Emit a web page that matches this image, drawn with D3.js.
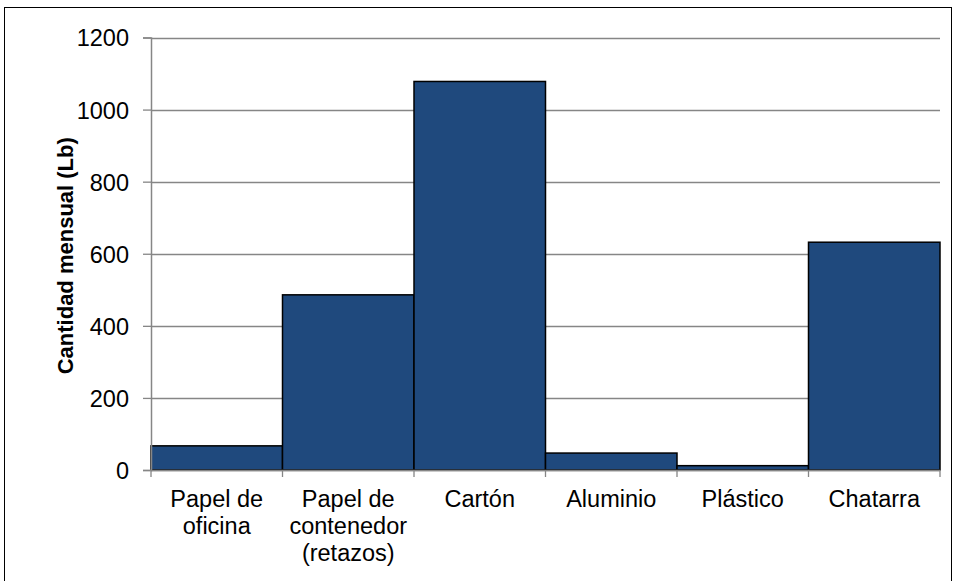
<!DOCTYPE html>
<html>
<head>
<meta charset="utf-8">
<script src="https://cdn.jsdelivr.net/npm/d3@7"></script>
<style>
  html, body { margin: 0; padding: 0; background: #fff; }
  svg text { font-family: "Liberation Sans", Arial, sans-serif; fill: #000; }
</style>
</head>
<body>
<svg id="chart" width="956" height="581"></svg>
<script>
// Monthly recyclable material quantities (Lb)
const categories = [
  ["Papel de", "oficina"],
  ["Papel de", "contenedor", "(retazos)"],
  ["Cartón"],
  ["Aluminio"],
  ["Plástico"],
  ["Chatarra"]
];
const values = [67, 486, 1078, 47, 12, 632];
const yTicks = [0, 200, 400, 600, 800, 1000, 1200];
const yTitle = "Cantidad mensual (Lb)";

const svg = d3.select("#chart");
const plot = { left: 151, right: 940, top: 37.5, bottom: 470 };

// outer chart frame
svg.append("rect")
  .attr("x", 4.5).attr("y", 7.5)
  .attr("width", 947).attr("height", 600)
  .attr("fill", "none").attr("stroke", "#000").attr("stroke-width", 1);

const keys = categories.map((c, i) => i);
const x = d3.scaleBand().domain(keys).range([plot.left, plot.right]).padding(0);
const y = d3.scaleLinear().domain([0, 1200]).range([plot.bottom, plot.top]);

// horizontal gridlines
svg.append("g")
  .selectAll("line")
  .data(yTicks)
  .join("line")
  .attr("x1", plot.left).attr("x2", plot.right)
  .attr("y1", d => Math.round(y(d)) + 0.5).attr("y2", d => Math.round(y(d)) + 0.5)
  .attr("stroke", "#868686").attr("stroke-width", 1.3);

// bars
svg.append("g")
  .selectAll("rect")
  .data(values)
  .join("rect")
  .attr("x", (d, i) => x(i))
  .attr("y", d => y(d))
  .attr("width", x.bandwidth())
  .attr("height", d => y(0) - y(d))
  .attr("fill", "#1F497D")
  .attr("stroke", "#000")
  .attr("stroke-width", 1.5);

// y axis
const yAxis = svg.append("g")
  .attr("transform", `translate(${plot.left},0)`)
  .call(d3.axisLeft(y).tickValues(yTicks).tickSize(8).tickPadding(14).tickFormat(d3.format("d")));
yAxis.select(".domain").attr("stroke", "#868686").attr("stroke-width", 1.5);
yAxis.selectAll(".tick line").attr("stroke", "#868686").attr("stroke-width", 1.3);
yAxis.selectAll(".tick text")
  .attr("font-size", 23.5)
  .attr("dy", "0.36em")
  .style("font-family", "'Liberation Sans', Arial, sans-serif")
  .attr("fill", "#000");

// x axis baseline and category boundary ticks
const boundaries = keys.map(i => x(i)).concat([plot.right]);
svg.append("line")
  .attr("x1", plot.left).attr("x2", plot.right)
  .attr("y1", plot.bottom + 0.5).attr("y2", plot.bottom + 0.5)
  .attr("stroke", "#868686").attr("stroke-width", 1.5);
svg.append("g")
  .selectAll("line")
  .data(boundaries)
  .join("line")
  .attr("x1", d => d).attr("x2", d => d)
  .attr("y1", plot.bottom).attr("y2", plot.bottom + 7)
  .attr("stroke", "#868686").attr("stroke-width", 1.3);

// category labels
const labels = svg.append("g")
  .selectAll("text")
  .data(categories)
  .join("text")
  .attr("text-anchor", "middle")
  .attr("font-size", 23.5)
  .attr("x", (d, i) => x(i) + x.bandwidth() / 2)
  .attr("y", 507);
labels.selectAll("tspan")
  .data(d => d)
  .join("tspan")
  .attr("x", function () { return d3.select(this.parentNode).attr("x"); })
  .attr("dy", (d, j) => j === 0 ? 0 : 27)
  .text(d => d);

// y axis title
svg.append("text")
  .attr("transform", `translate(73,${(plot.top + plot.bottom) / 2 + 2}) rotate(-90)`)
  .attr("text-anchor", "middle")
  .attr("font-size", 22)
  .attr("font-weight", "bold")
  .text(yTitle);
</script>
</body>
</html>
